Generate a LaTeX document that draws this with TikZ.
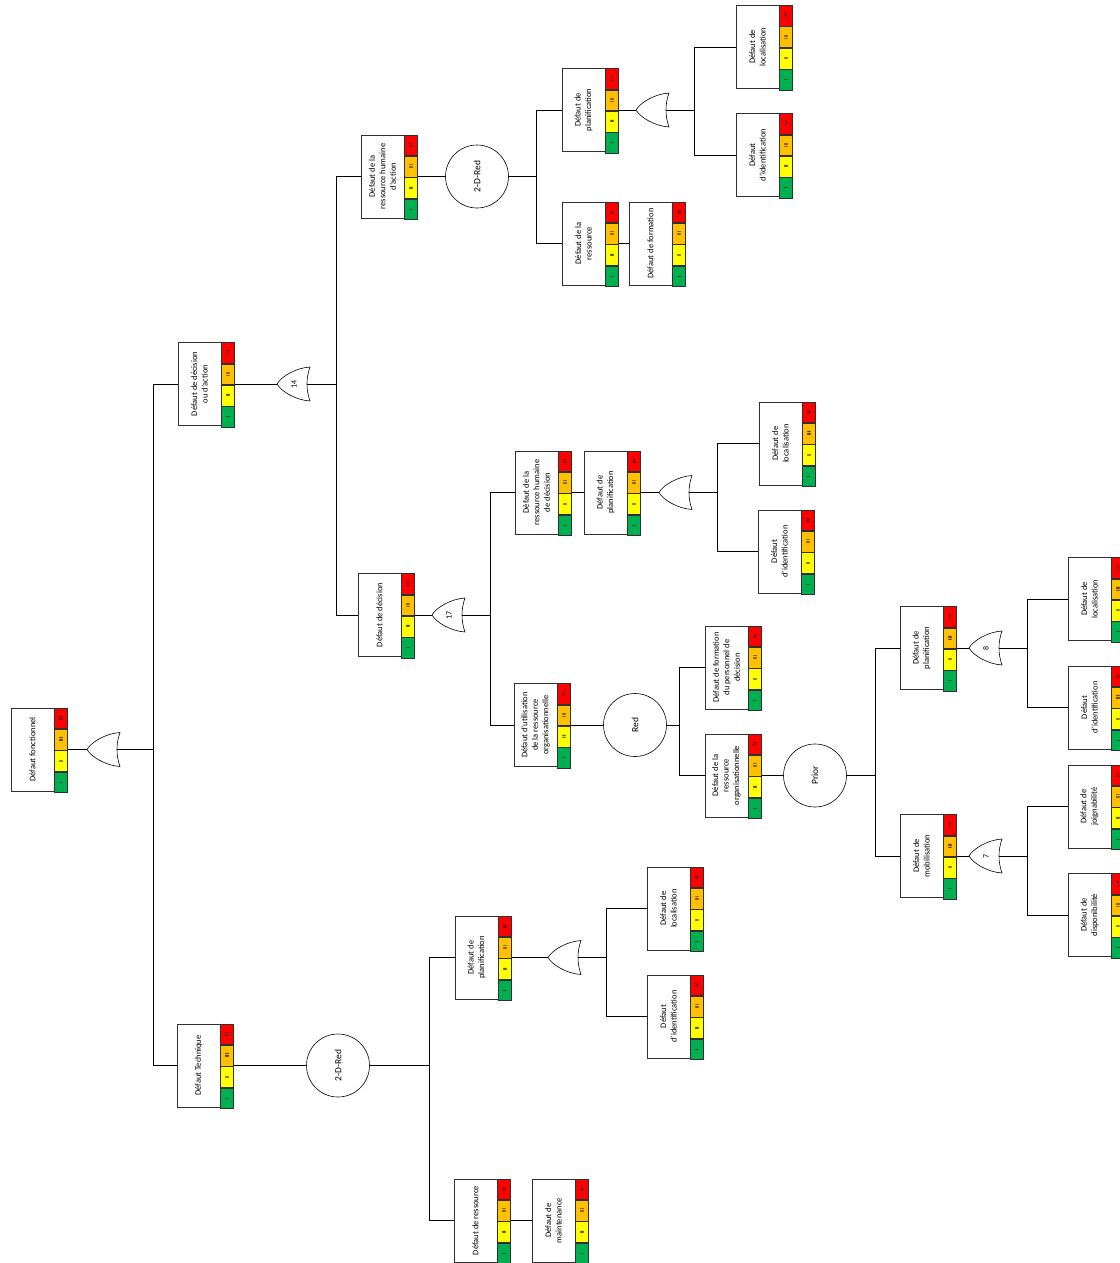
\documentclass[tikz,border=0pt]{standalone}
\usepackage{fontspec}
\usepackage{graphicx}
\setmainfont{Carlito}
\definecolor{cR}{HTML}{FF0000}
\definecolor{cO}{HTML}{FFC000}
\definecolor{cY}{HTML}{FFFF00}
\definecolor{cG}{HTML}{00B050}
\definecolor{lnc}{HTML}{303030}
\tikzset{
  fbox/.style={draw=lnc,line width=0.7pt,fill=white,minimum width=43pt,minimum height=83pt,inner sep=0pt},
  ftext/.style={rotate=90,align=center,font=\fontsize{8.5}{10.5}\selectfont,inner sep=0pt},
  sq/.style={draw=lnc,line width=0.6pt,minimum width=13pt,minimum height=20.75pt,inner sep=0pt,font=\fontsize{5.5}{5.5}\selectfont},
  gate/.style={draw=black,line width=0.6pt,fill=white},
  gtext/.style={font=\fontsize{8}{8}\selectfont,inner sep=0pt},
  circ/.style={circle,draw=black,line width=0.6pt,fill=white,minimum size=63pt,inner sep=0pt,font=\fontsize{9.5}{10}\selectfont},
  conn/.style={draw=black,line width=0.7pt}
}
\newcommand{\lv}[3]{\rotatebox{90}{\ifnum#2=#3\bfseries\fi #1}}
\newcommand{\ftn}[5]{%
  \node[fbox] (#1) at ({#2+21.5},{#3}) {};
  \node[ftext] at (#1.center) {#4};
  \node[sq,fill=cR,anchor=north west] (#1-4) at (#1.north east) {\lv{IV}{4}{#5}};
  \node[sq,fill=cO,anchor=north] (#1-3) at (#1-4.south) {\lv{III}{3}{#5}};
  \node[sq,fill=cY,anchor=north] (#1-2) at (#1-3.south) {\lv{II}{2}{#5}};
  \node[sq,fill=cG,anchor=north] (#1-1) at (#1-2.south) {\lv{I}{1}{#5}};
  \coordinate (#1-out) at (#1-4.east |- #1.east);
}
\newcommand{\org}[4]{%
  \draw[gate] ({#2+33},{#3-17}) .. controls ({#2+18},{#3-16}) and ({#2+4},{#3-7}) .. ({#2},{#3})
     .. controls ({#2+4},{#3+7}) and ({#2+18},{#3+16}) .. ({#2+33},{#3+17})
     .. controls ({#2+29},{#3+6}) and ({#2+29},{#3-6}) .. cycle;
  \coordinate (#1-in) at ({#2},{#3});
  \coordinate (#1-out) at ({#2+30},{#3});
  \node[gtext] (#1) at ({#2+17},{#3}) {\rotatebox{90}{#4}};
}
\begin{document}
\begin{tikzpicture}[x=1pt,y=-1pt]
\useasboundingbox[fill=white] (0,0) rectangle (1119,1263);

% nodes
\ftn{n1}{11}{749.5}{Défaut fonctionnel}{3}
\ftn{n2}{178}{384}{Défaut de décision\\ou d’action}{2}
\ftn{n3}{177}{1065.5}{Défaut Technique}{3}
\ftn{n4}{361}{176.5}{Défaut de la\\ressource humaine\\d’action}{2}
\ftn{n5}{358}{615}{Défaut de décision}{2}
\ftn{n6}{562}{110}{Défaut de\\planification}{2}
\ftn{n7}{562}{243.5}{Défaut de la\\ressource}{2}
\ftn{n8}{629}{243.5}{Défaut de formation}{0}
\ftn{n9}{736}{47}{Défaut de\\localisation}{0}
\ftn{n10}{736}{155}{Défaut\\d’identification}{2}
\ftn{n11}{515}{492.5}{Défaut de la\\ressource humaine\\de décision}{0}
\ftn{n12}{584}{492.5}{Défaut de\\planification}{0}
\ftn{n13}{759}{443.5}{Défaut de\\localisation}{3}
\ftn{n14}{758}{551.5}{Défaut\\d’identification}{0}
\ftn{n15}{514}{725}{Défaut d’utilisation\\de la ressource\\organisationnelle}{2}
\ftn{n16}{705}{667.5}{Défaut de formation\\du personnel de\\décision}{0}
\ftn{n17}{705}{775.5}{Défaut de la\\ressource\\organisationnelle}{2}
\ftn{n18}{900}{648}{Défaut de\\planification}{3}
\ftn{n19}{900}{856}{Défaut de\\mobilisation}{3}
\ftn{n20}{1068}{599}{Défaut de\\localisation}{3}
\ftn{n21}{1068}{707.5}{Défaut\\d’identification}{3}
\ftn{n22}{1068}{806.5}{Défaut de\\joignabilité}{2}
\ftn{n23}{1068}{915}{Défaut de\\disponibilité}{0}
\ftn{n24}{455}{957.5}{Défaut de\\planification}{2}
\ftn{n25}{454}{1220.5}{Défaut de ressource}{2}
\ftn{n26}{532}{1220.5}{Défaut de\\maintenance}{2}
\ftn{n27}{647}{908.5}{Défaut de\\localisation}{0}
\ftn{n28}{647}{1016.5}{Défaut\\d’identification}{2}

% gates
\org{g1}{87}{749.5}{}
\org{g2}{277}{384}{14}
\org{g3}{636}{110}{}
\org{g4}{432}{615}{17}
\org{g5}{659}{492.5}{}
\org{g6}{969}{648}{8}
\org{g7}{969}{856}{7}
\org{g8}{548}{957.5}{}

% circles
\node[circ] (c1) at (477,176.5) {\rotatebox{90}{2-D-Red}};
\node[circ] (c2) at (635,725) {\rotatebox{90}{Red}};
\node[circ] (c3) at (815,775.5) {\rotatebox{90}{Prior}};
\node[circ] (c4) at (338,1065.5) {\rotatebox{90}{2-D-Red}};

% junctions
\coordinate (t1) at (153,749.5);
\coordinate (t2) at (336,384);
\coordinate (t3) at (536,176.5);
\coordinate (t4) at (694,110);
\coordinate (t5) at (490,615);
\coordinate (t6) at (717,492.5);
\coordinate (t7) at (679,725);
\coordinate (t8) at (875,775.5);
\coordinate (t9) at (1027,648);
\coordinate (t10) at (1027,856);
\coordinate (t11) at (429,1065.5);
\coordinate (t12) at (606,957.5);

% connectors
\draw[conn] (n1-out) -- (g1-in);
\draw[conn] (g1-out) -- (t1);
\draw[conn] (t1) |- (n2.west);
\draw[conn] (t1) |- (n3.west);

\draw[conn] (n2-out) -- (g2-in);
\draw[conn] (g2-out) -- (t2);
\draw[conn] (t2) |- (n4.west);
\draw[conn] (t2) |- (n5.west);

\draw[conn] (n4-out) -- (c1.west);
\draw[conn] (c1.east) -- (t3);
\draw[conn] (t3) |- (n6.west);
\draw[conn] (t3) |- (n7.west);
\draw[conn] (n6-out) -- (g3-in);
\draw[conn] (g3-out) -- (t4);
\draw[conn] (t4) |- (n9.west);
\draw[conn] (t4) |- (n10.west);
\draw[conn] (n7-out) -- (n8.west);

\draw[conn] (n5-out) -- (g4-in);
\draw[conn] (g4-out) -- (t5);
\draw[conn] (t5) |- (n11.west);
\draw[conn] (t5) |- (n15.west);
\draw[conn] (n11-out) -- (n12.west);
\draw[conn] (n12-out) -- (g5-in);
\draw[conn] (g5-out) -- (t6);
\draw[conn] (t6) |- (n13.west);
\draw[conn] (t6) |- (n14.west);

\draw[conn] (n15-out) -- (c2.west);
\draw[conn] (c2.east) -- (t7);
\draw[conn] (t7) |- (n16.west);
\draw[conn] (t7) |- (n17.west);
\draw[conn] (n17-out) -- (c3.west);
\draw[conn] (c3.east) -- (t8);
\draw[conn] (t8) |- (n18.west);
\draw[conn] (t8) |- (n19.west);
\draw[conn] (n18-out) -- (g6-in);
\draw[conn] (g6-out) -- (t9);
\draw[conn] (t9) |- (n20.west);
\draw[conn] (t9) |- (n21.west);
\draw[conn] (n19-out) -- (g7-in);
\draw[conn] (g7-out) -- (t10);
\draw[conn] (t10) |- (n22.west);
\draw[conn] (t10) |- (n23.west);

\draw[conn] (n3-out) -- (c4.west);
\draw[conn] (c4.east) -- (t11);
\draw[conn] (t11) |- (n24.west);
\draw[conn] (t11) |- (n25.west);
\draw[conn] (n24-out) -- (g8-in);
\draw[conn] (g8-out) -- (t12);
\draw[conn] (t12) |- (n27.west);
\draw[conn] (t12) |- (n28.west);
\draw[conn] (n25-out) -- (n26.west);
\end{tikzpicture}
\end{document}
